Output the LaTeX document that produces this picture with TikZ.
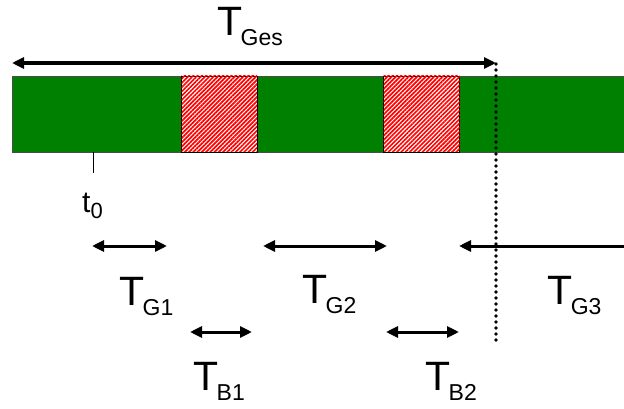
\documentclass[tikz,border=0pt]{standalone}
\usepackage{fontspec}
\setmainfont{Liberation Sans}
\usetikzlibrary{arrows.meta, patterns.meta}

\newcommand{\tlabel}[2]{{\fontsize{41}{41}\selectfont #1}\kern-1.5pt\raisebox{-10pt}{\fontsize{23}{23}\selectfont #2}}

\tikzset{
  span/.style={line width=3pt, {Triangle[length=12pt,width=11pt]}-{Triangle[length=12pt,width=11pt]}},
  good/.style={fill={rgb,255:red,0;green,128;blue,0}, draw=black!70, line width=0.8pt},
  bad/.style={fill=white, draw=black, line width=0.8pt,
    postaction={pattern={Lines[angle=45,distance=3pt,line width=1.7pt]}, pattern color=red}},
  lbl/.style={anchor=base west, inner sep=0pt}
}

\begin{document}
\begin{tikzpicture}[x=1pt, y=-1pt]
  \useasboundingbox (0,0) rectangle (624,409);
  \draw[good] (12,76) rectangle (626,152);
  \draw[bad] (181.5,76) rectangle (257,152);
  \draw[bad] (383.5,76) rectangle (459.5,152);

  \coordinate (ges-l) at (12,63);  \coordinate (ges-r) at (496,63);
  \coordinate (g1-l) at (92,246);  \coordinate (g1-r) at (167,246);
  \coordinate (g2-l) at (263,246); \coordinate (g2-r) at (387,246);
  \coordinate (g3-l) at (459,246); \coordinate (g3-r) at (626,246);
  \coordinate (b1-l) at (190,332); \coordinate (b1-r) at (252,332);
  \coordinate (b2-l) at (386,332); \coordinate (b2-r) at (459,332);
  \coordinate (cut-t) at (496,64); \coordinate (cut-b) at (496,342);
  \coordinate (t0-t) at (93,152);  \coordinate (t0-b) at (93,173);

  \draw[span, line width=3.5pt] (ges-l) -- (ges-r);
  \draw[span] (g1-l) -- (g1-r);
  \draw[span] (g2-l) -- (g2-r);
  \draw[span, {Triangle[length=12pt,width=11pt]}-] (g3-l) -- (g3-r);
  \draw[span] (b1-l) -- (b1-r);
  \draw[span] (b2-l) -- (b2-r);
  \draw[line width=3.6pt, line cap=round, dash pattern=on 0pt off 6pt] (cut-t) -- (cut-b);
  \draw[line width=1pt] (t0-t) -- (t0-b);

  \node[lbl] (ges) at (217,36) {\tlabel{T}{Ges}};
  \node[lbl] (t0) at (82,212) {{\fontsize{30}{30}\selectfont t}\raisebox{-6pt}{\fontsize{22}{22}\selectfont 0}};
  \node[lbl] (tg1) at (119,305) {\tlabel{T}{G1}};
  \node[lbl] (tg2) at (302,303) {\tlabel{T}{G2}};
  \node[lbl] (tg3) at (547,304) {\tlabel{T}{G3}};
  \node[lbl] (tb1) at (193,390) {\tlabel{T}{B1}};
  \node[lbl] (tb2) at (425,390) {\tlabel{T}{B2}};
\end{tikzpicture}
\end{document}
